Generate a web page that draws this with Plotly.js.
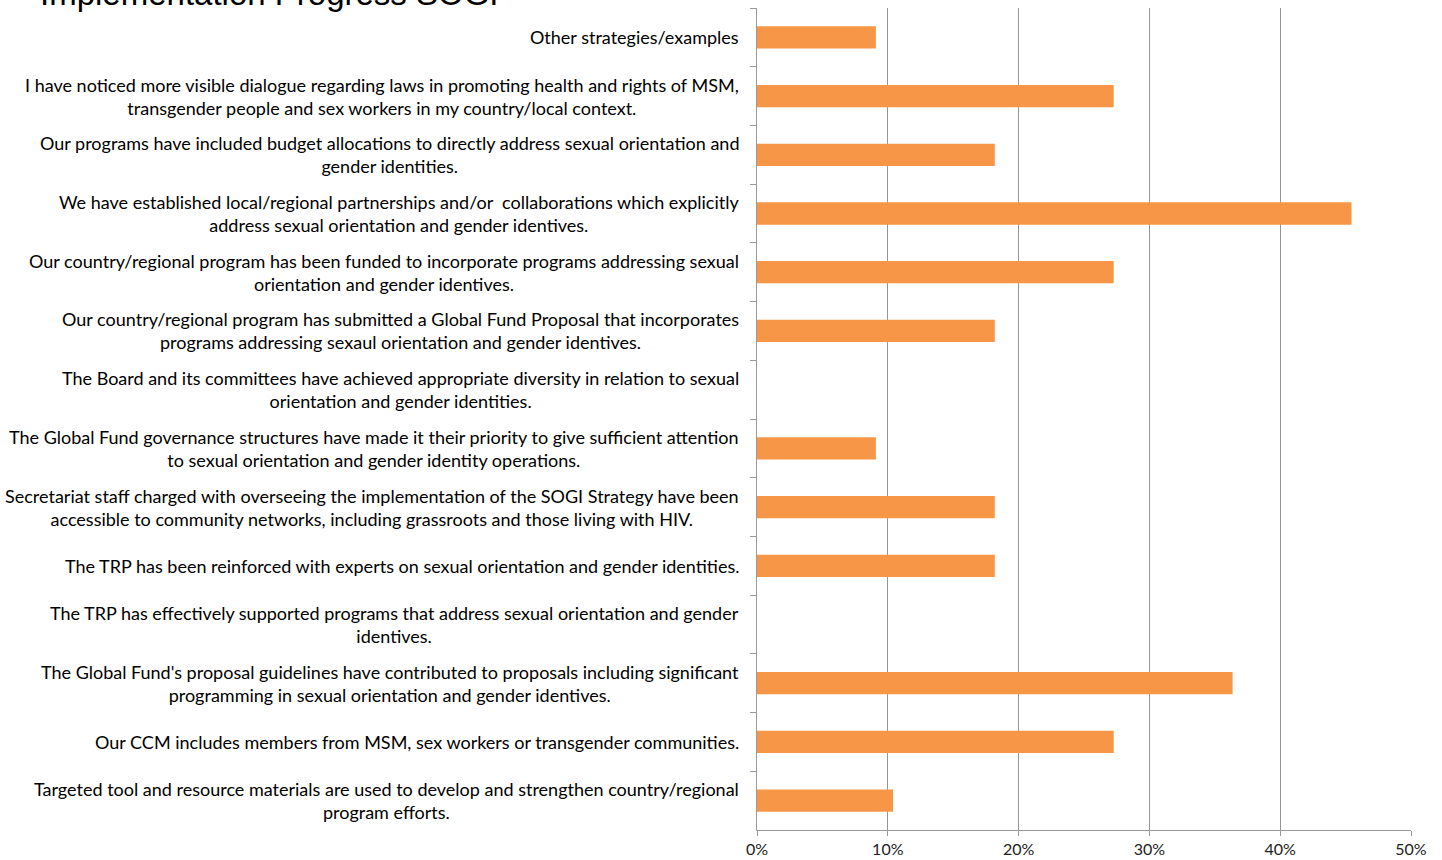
<!DOCTYPE html>
<html>
<head>
<meta charset="utf-8">
<script src="https://cdn.plot.ly/plotly-3.0.1.min.js"></script>
<style>html,body{margin:0;padding:0;background:#fff;}#chart{width:1442px;height:860px;}</style>
</head>
<body>
<div id="chart"></div>
<script>
const chartTitle = "Implementation Progress SOGI";
const categories = [
  "Other strategies/examples",
  "I have noticed more visible dialogue regarding laws in promoting health and rights of MSM,<br>transgender people and sex workers in my country/local context.",
  "Our programs have included budget allocations to directly address sexual orientation and<br>gender identities.",
  "We have established local/regional partnerships and/or  collaborations which explicitly<br>address sexual orientation and gender identives.",
  "Our country/regional program has been funded to incorporate programs addressing sexual<br>orientation and gender identives.",
  "Our country/regional program has submitted a Global Fund Proposal that incorporates<br>programs addressing sexaul orientation and gender identives.",
  "The Board and its committees have achieved appropriate diversity in relation to sexual<br>orientation and gender identities.",
  "The Global Fund governance structures have made it their priority to give sufficient attention<br>to sexual orientation and gender identity operations.",
  "Secretariat staff charged with overseeing the implementation of the SOGI Strategy have been<br>accessible to community networks, including grassroots and those living with HIV.",
  "The TRP has been reinforced with experts on sexual orientation and gender identities.",
  "The TRP has effectively supported programs that address sexual orientation and gender<br>identives.",
  "The Global Fund's proposal guidelines have contributed to proposals including significant<br>programming in sexual orientation and gender identives.",
  "Our CCM includes members from MSM, sex workers or transgender communities.",
  "Targeted tool and resource materials are used to develop and strengthen country/regional<br>program efforts."
];
const values = [0.0909, 0.2727, 0.1818, 0.4545, 0.2727, 0.1818, 0, 0.0909, 0.1818, 0.1818, 0, 0.3636, 0.2727, 0.104];
const xTickVals = [0, 0.1, 0.2, 0.3, 0.4, 0.5];
const xTickText = ["0%", "10%", "20%", "30%", "40%", "50%"];

const labelFont = {family: "Lato, 'Open Sans', sans-serif", size: 18, color: "#000"};

const annotations = categories.map(c => ({
  xref: "paper", yref: "y", x: 0, y: c, xanchor: "right", yanchor: "middle",
  xshift: -16, align: "center", showarrow: false, text: c, font: labelFont
}));
annotations.push({
  xref: "paper", yref: "paper", x: -1.1, y: 1, xanchor: "left", yanchor: "bottom",
  yshift: -6, showarrow: false, text: chartTitle,
  font: {family: "'Liberation Sans', Arial, sans-serif", size: 33, color: "#000"}
});

const trace = {
  type: "bar", orientation: "h", x: values, y: categories,
  marker: {color: "#F79646", line: {width: 0}},
  hoverinfo: "x+y"
};

const layout = {
  width: 1442, height: 860,
  margin: {l: 757, r: 31, t: 8, b: 30},
  paper_bgcolor: "#fff", plot_bgcolor: "#fff",
  showlegend: false,
  bargap: 0.62,
  font: {family: "Lato, sans-serif", size: 16, color: "#333"},
  xaxis: {
    range: [0, 0.5], tickvals: xTickVals, ticktext: xTickText,
    showgrid: true, gridcolor: "#969696", gridwidth: 1,
    zeroline: false, showline: true, linecolor: "#9a9a9a", linewidth: 1,
    ticks: "outside", ticklen: 5, tickcolor: "#9a9a9a",
    tickfont: {family: "Lato, sans-serif", size: 16, color: "#222"}, fixedrange: true
  },
  yaxis: {
    type: "category", autorange: "reversed",
    showticklabels: false, showgrid: false, zeroline: false,
    showline: true, linecolor: "#9a9a9a", linewidth: 1,
    ticks: "outside", tickson: "boundaries", ticklen: 6, tickcolor: "#9a9a9a", fixedrange: true
  },
  annotations: annotations
};

Plotly.newPlot("chart", [trace], layout, {displayModeBar: false, staticPlot: true});
</script>
</body>
</html>
